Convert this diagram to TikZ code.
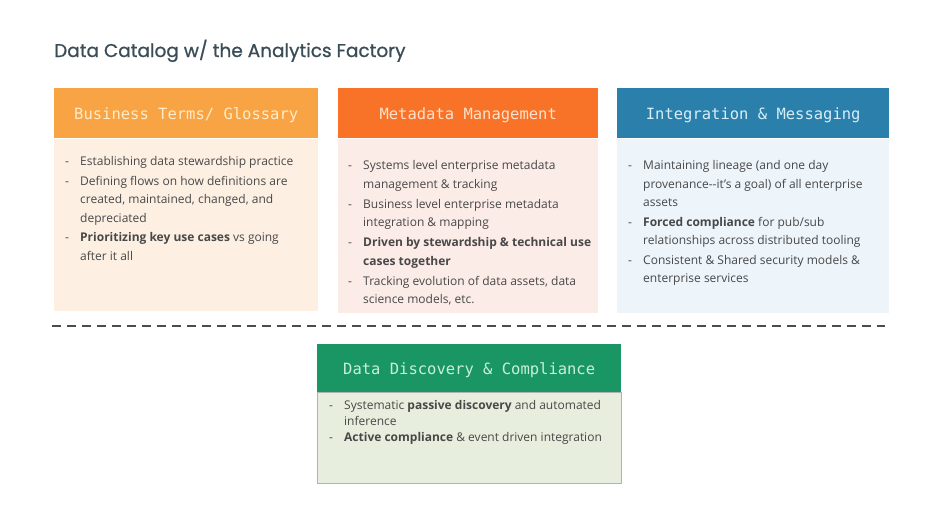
\documentclass[tikz,border=0pt]{standalone}
\usepackage{fontspec}
\setmainfont{Open Sans}
\setmonofont{DejaVu Sans Mono}
\newfontfamily\titlefont[FakeBold=0.8]{Poppins}
\usepackage{xcolor}
\definecolor{titlegray}{RGB}{58,76,86}
\definecolor{textgray}{RGB}{72,72,72}
\definecolor{termorange}{RGB}{248,164,68}
\definecolor{termbody}{RGB}{253,240,227}
\definecolor{metaorange}{RGB}{248,114,40}
\definecolor{metabody}{RGB}{252,236,231}
\definecolor{integblue}{RGB}{42,128,170}
\definecolor{integbody}{RGB}{237,244,250}
\definecolor{discgreen}{RGB}{26,150,100}
\definecolor{discbody}{RGB}{232,238,221}
\usetikzlibrary{positioning}
\tikzset{
  headbox/.style={rectangle, anchor=north west, inner sep=0pt,
    text height=13pt, text depth=0pt,
    minimum height=50pt, font=\ttfamily\fontsize{15.5}{18}\selectfont},
  bodybox/.style={rectangle, anchor=north, inner sep=0pt},
  bodytext/.style={anchor=north west, align=left, inner sep=0pt,
    text=textgray, font=\fontsize{12}{18.5}\selectfont},
}
\newcommand{\dash}{\makebox[15pt][l]{-}}
\newcommand{\ind}{\hspace*{15pt}}

\begin{document}
\begin{tikzpicture}[x=1pt, y=-1pt]
  \useasboundingbox (0,0) rectangle (940,530);

  % Title
  \node[anchor=base west, inner sep=0pt, text=titlegray,
        font=\titlefont\fontsize{18.5}{22}\selectfont] (title)
    at (54,57) {Data Catalog w/ the Analytics Factory};

  % Business terms
  \node[headbox, fill=termorange, minimum width=264pt,
        text={rgb,255:red,255;green,236;blue,200}] (h1) at (54,88)
    {Business Terms/ Glossary};
  \node[bodybox, fill=termbody, minimum width=264pt,
        minimum height=172pt, below=0pt of h1] (b1) {};
  \node[bodytext] (t1) at ([xshift=11pt, yshift=-18pt]b1.north west)
    {\dash Establishing data stewardship practice\\[1pt]
     \dash Defining flows on how definitions are\\
     \ind created, maintained, changed, and\\
     \ind depreciated\\[1pt]
     \dash\textbf{Prioritizing key use cases} vs going\\
     \ind after it all};

  % Metadata management
  \node[headbox, fill=metaorange, minimum width=260pt,
        text={rgb,255:red,255;green,226;blue,204}] (h2) at (338,88)
    {Metadata Management};
  \node[bodybox, fill=metabody, minimum width=260pt,
        minimum height=174pt, below=0pt of h2] (b2) {};
  \node[bodytext] (t2) at ([xshift=10pt, yshift=-22pt]b2.north west)
    {\dash Systems level enterprise metadata\\
     \ind management \& tracking\\[1.5pt]
     \dash Business level enterprise metadata\\
     \ind integration \& mapping\\[1.5pt]
     \dash\textbf{Driven by stewardship \& technical use}\\
     \ind\textbf{cases together}\\[1.5pt]
     \dash Tracking evolution of data assets, data\\
     \ind science models, etc.};

  % Integration
  \node[headbox, fill=integblue, minimum width=272pt,
        text={rgb,255:red,214;green,238;blue,250}] (h3) at (617,88)
    {Integration \& Messaging};
  \node[bodybox, fill=integbody, minimum width=272pt,
        minimum height=174pt, below=0pt of h3] (b3) {};
  \node[bodytext] (t3) at ([xshift=11pt, yshift=-22pt]b3.north west)
    {\dash Maintaining lineage (and one day\\
     \ind provenance{-}{-}it’s a goal) of all enterprise\\
     \ind assets\\[1pt]
     \dash\textbf{Forced compliance} for pub/sub\\
     \ind relationships across distributed tooling\\[1pt]
     \dash Consistent \& Shared security models \&\\
     \ind enterprise services};

  % Separator
  \coordinate (sepL) at (52,326);
  \coordinate (sepR) at (885,326);
  \draw[line width=2.2pt, black!70, dash pattern=on 9pt off 6pt] (sepL) -- (sepR);

  % Data discovery
  \node[headbox, fill=discgreen, minimum width=304pt, minimum height=48pt,
        text={rgb,255:red,200;green,240;blue,216}] (h4) at (317,344)
    {Data Discovery \& Compliance};
  \node[bodybox, fill=discbody, draw=black!30, minimum width=304pt,
        minimum height=91pt, below=0pt of h4] (b4) {};
  \node[bodytext, font=\fontsize{12}{16}\selectfont] (t4)
    at ([xshift=12pt, yshift=-8pt]b4.north west)
    {\dash Systematic \textbf{passive discovery} and automated\\
     \ind inference\\
     \dash\textbf{Active compliance} \& event driven integration};
\end{tikzpicture}
\end{document}
